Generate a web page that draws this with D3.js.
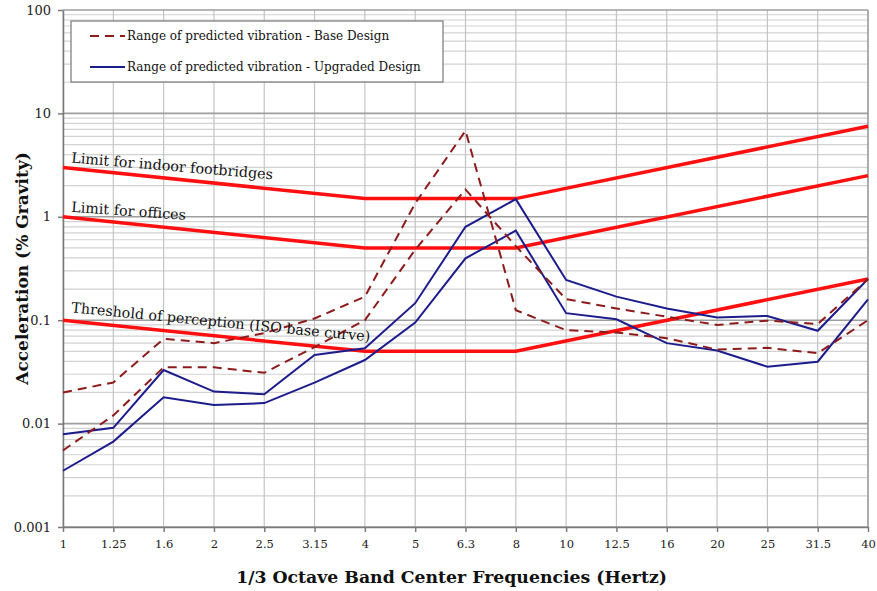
<!DOCTYPE html>
<html>
<head>
<meta charset="utf-8">
<script src="https://cdn.jsdelivr.net/npm/d3@7"></script>
<style>
    body { margin: 0; background: #fff; overflow: hidden; }
    svg { display: block; }
    .axis-title { font-family: "DejaVu Serif", serif; font-weight: bold; fill: #111; }
    .note { font-family: "DejaVu Serif", serif; font-size: 14.3px; fill: #111; }
    .legend text { font-family: "DejaVu Serif", serif; font-size: 12px; fill: #111; }
</style>
</head>
<body>
<svg id="chart" width="877" height="591"></svg>
<script>
// 1/3 octave band centre frequencies (Hz)
const freqs = ["1", "1.25", "1.6", "2", "2.5", "3.15", "4", "5", "6.3", "8",
    "10", "12.5", "16", "20", "25", "31.5", "40"]
const yTicks = [0.001, 0.01, 0.1, 1, 10, 100]
const yTickLabels = ["0.001", "0.01", "0.1", "1", "10", "100"]

// base design, range of predicted vibration (% g)
const baseA = [0.020, 0.025, 0.066, 0.060, 0.075, 0.104, 0.169, 1.35, 6.8, 0.125,
    0.080, 0.076, 0.067, 0.052, 0.054, 0.048, 0.10]
const baseB = [0.0055, 0.012, 0.035, 0.035, 0.031, 0.055, 0.10, 0.48, 1.84, 0.52,
    0.16, 0.13, 0.108, 0.090, 0.099, 0.092, 0.25]

// upgraded design, range of predicted vibration (% g)
const upgA = [0.0079, 0.0091, 0.033, 0.0204, 0.0192, 0.046, 0.0535, 0.146, 0.80, 1.48,
    0.245, 0.169, 0.130, 0.106, 0.110, 0.079, 0.25]
const upgB = [0.0035, 0.0067, 0.018, 0.0151, 0.0158, 0.0249, 0.0412, 0.095, 0.397, 0.734,
    0.117, 0.102, 0.060, 0.051, 0.0355, 0.0397, 0.159]

// limit curves, breakpoints only (straight between them on this chart)
const limitFreqs = ["1", "4", "8", "40"]
const footbridgeLimit = [3, 1.5, 1.5, 7.5]
const officeLimit = [1, 0.5, 0.5, 2.5]
const perceptionLimit = [0.1, 0.05, 0.05, 0.25]

const margin = { top: 10, right: 9, bottom: 64, left: 63 }
const width = 877
const height = 591
const innerWidth = width - margin.left - margin.right
const innerHeight = height - margin.top - margin.bottom

const svg = d3.select("#chart")
const g = svg.append("g")
    .attr("transform", `translate(${margin.left}, ${margin.top})`)

// Scales
const x = d3.scalePoint().domain(freqs).range([0, innerWidth])
const y = d3.scaleLog().domain([0.001, 100]).range([innerHeight, 0])

// minor grid (2..9 in every decade)
const minor = []
for (let k = -3; k < 2; k++) {
    for (let m = 2; m <= 9; m++) minor.push(m * Math.pow(10, k))
}
g.append("g").attr("class", "grid minor")
    .selectAll("line").data(minor).enter()
    .append("line")
    .attr("x1", 0).attr("x2", innerWidth)
    .attr("y1", d => y(d)).attr("y2", d => y(d))
    .attr("stroke", "#d2d2d2").attr("stroke-width", 1.2)

// vertical grid
g.append("g").attr("class", "grid vert")
    .selectAll("line").data(freqs).enter()
    .append("line")
    .attr("x1", d => x(d)).attr("x2", d => x(d))
    .attr("y1", 0).attr("y2", innerHeight)
    .attr("stroke", "#c4c4c4").attr("stroke-width", 1.2)

// major grid (decades)
g.append("g").attr("class", "grid major")
    .selectAll("line").data(yTicks).enter()
    .append("line")
    .attr("x1", 0).attr("x2", innerWidth)
    .attr("y1", d => y(d)).attr("y2", d => y(d))
    .attr("stroke", "#9e9e9e").attr("stroke-width", 1.6)

// right border
g.append("line")
    .attr("x1", innerWidth).attr("x2", innerWidth)
    .attr("y1", 0).attr("y2", innerHeight)
    .attr("stroke", "#9e9e9e").attr("stroke-width", 1.5)

// Axes
const xAxis = d3.axisBottom(x).tickSize(5).tickSizeOuter(0).tickPadding(8)
const yAxis = d3.axisLeft(y).tickValues(yTicks)
    .tickFormat((d, i) => yTickLabels[i]).tickSize(5).tickSizeOuter(0).tickPadding(7)

g.append("g")
    .attr("class", "x axis")
    .attr("transform", `translate(0, ${innerHeight})`)
    .call(xAxis)
    .call(a => a.selectAll("text").style("font-size", "11.5px"))
g.append("g")
    .attr("class", "y axis")
    .call(yAxis)
    .call(a => a.selectAll("text").style("font-size", "13px"))
g.selectAll(".axis text")
    .style("font-family", "'DejaVu Serif', serif")
    .style("fill", "#222")
g.selectAll(".axis path, .axis line")
    .style("stroke", "#7a7a7a")
    .style("stroke-width", 1.5)

// lines
const line = d3.line()
    .x((d, i) => x(freqs[i]))
    .y(d => y(d))
const limitLine = d3.line()
    .x((d, i) => x(limitFreqs[i]))
    .y(d => y(d))

const limits = [footbridgeLimit, officeLimit, perceptionLimit]
g.selectAll("path.limit").data(limits).enter()
    .append("path")
    .attr("class", "limit")
    .attr("d", limitLine)
    .attr("fill", "none")
    .attr("stroke", "#ff0f0f")
    .attr("stroke-width", 3.5)

g.selectAll("path.upg").data([upgA, upgB]).enter()
    .append("path")
    .attr("class", "upg")
    .attr("d", line)
    .attr("fill", "none")
    .attr("stroke", "#1c1c8c")
    .attr("stroke-width", 2)

g.selectAll("path.base").data([baseA, baseB]).enter()
    .append("path")
    .attr("class", "base")
    .attr("d", line)
    .attr("fill", "none")
    .attr("stroke", "#8e1b1b")
    .attr("stroke-width", 2)
    .attr("stroke-dasharray", "9,6")

// notes along limit curves
const notes = [
    { text: "Limit for indoor footbridges", v: 3, dy: -5, angle: 4.8 },
    { text: "Limit for offices", v: 1, dy: -5, angle: 4 },
    { text: "Threshold of perception (ISO base curve)", v: 0.1, dy: -8, angle: 5.6 }
]
notes.forEach(n => {
    const nx = x(freqs[0]) + 8
    const ny = y(n.v) + n.dy
    g.append("text")
        .attr("class", "note")
        .attr("transform", `translate(${nx}, ${ny}) rotate(${n.angle})`)
        .text(n.text)
})

// Legend
const legend = g.append("g").attr("class", "legend")
    .attr("transform", "translate(8, 11)")
legend.append("rect")
    .attr("width", 372).attr("height", 61)
    .attr("fill", "#fff").attr("stroke", "#777").attr("stroke-width", 1.2)
const legendItems = [
    { label: "Range of predicted vibration - Base Design", color: "#8e1b1b", dash: "9,6" },
    { label: "Range of predicted vibration - Upgraded Design", color: "#1c1c8c", dash: null }
]
legendItems.forEach((d, i) => {
    const ly = 15 + i * 31
    legend.append("line")
        .attr("x1", 19).attr("x2", 54)
        .attr("y1", ly).attr("y2", ly)
        .attr("stroke", d.color).attr("stroke-width", 2)
        .attr("stroke-dasharray", d.dash)
    legend.append("text")
        .attr("x", 56).attr("y", ly).attr("dy", "0.35em")
        .text(d.label)
})

// axis titles
svg.append("text")
    .attr("class", "axis-title")
    .attr("x", margin.left + innerWidth / 2 - 14)
    .attr("y", 583)
    .attr("text-anchor", "middle")
    .style("font-size", "17.3px")
    .text("1/3 Octave Band Center Frequencies (Hertz)")

svg.append("text")
    .attr("class", "axis-title")
    .attr("transform", "rotate(-90)")
    .attr("x", -(margin.top + innerHeight / 2))
    .attr("y", 28)
    .attr("text-anchor", "middle")
    .style("font-size", "17px")
    .text("Acceleration (% Gravity)")
</script>
</body>
</html>
